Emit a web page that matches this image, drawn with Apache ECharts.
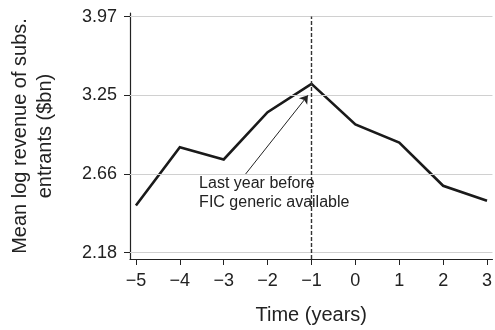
<!DOCTYPE html>
<html><head><meta charset="utf-8">
<script src="https://cdn.jsdelivr.net/npm/echarts@6/dist/echarts.min.js"></script>
<style>html,body{margin:0;padding:0;background:#fff}#c{width:495px;height:330px}</style>
</head><body><div id="c"></div>
<script>
// Data
var years = [-5, -4, -3, -2, -1, 0, 1, 2, 3];
var meanLogRevenue = [0.900, 1.048, 1.017, 1.137, 1.209, 1.106, 1.060, 0.950, 0.912];
var yTickValues = [0.78, 0.98, 1.18, 1.38];
var yTickLabels = ['2.18', '2.66', '3.25', '3.97'];
var xTickValues = [-5, -4, -3, -2, -1, 0, 1, 2, 3];
var eventYear = -1;
var annotationText = 'Last year before\nFIC generic available';
var annotationPos = [-3.56, 0.931];
var arrowFrom = [-2.5, 0.98];
var arrowTo = [-1.08, 1.18];

var yMin = 0.764, yMax = 1.389;
var font = 'Liberation Sans, Arial, Helvetica, sans-serif';
var chart = echarts.init(document.getElementById('c'));
function fmtX(v){ v = Math.round(v); return v < 0 ? '\u2212' + Math.abs(v) : String(v); }
function fmtY(v){
  for (var i = 0; i < yTickValues.length; i++) if (Math.abs(yTickValues[i] - v) < 1e-6) return yTickLabels[i];
  return '';
}
chart.setOption({
  animation: false,
  grid: {left: 128, right: 0, top: 13, bottom: 66},
  xAxis: {
    type: 'value', min: -5.135, max: 3.124,
    name: 'Time (years)', nameLocation: 'middle', nameGap: 46,
    nameTextStyle: {fontFamily: font, fontSize: 20, color: '#222'},
    axisLine: {show: true, onZero: false, lineStyle: {color: '#222', width: 1.2}},
    axisTick: {show: true, length: 6, customValues: xTickValues, lineStyle: {color: '#222', width: 1}},
    axisLabel: {customValues: xTickValues, formatter: fmtX, fontFamily: font, fontSize: 18, color: '#222', margin: 13},
    splitLine: {show: false}
  },
  yAxis: {
    type: 'value', min: yMin, max: yMax,
    name: 'Mean log revenue of subs.\nentrants ($bn)', nameLocation: 'middle', nameGap: 72,
    nameTextStyle: {fontFamily: font, fontSize: 20, color: '#222', lineHeight: 25, align: 'center'},
    axisLine: {show: true, onZero: false, lineStyle: {color: '#222', width: 1.2}},
    axisTick: {show: true, length: 6, customValues: yTickValues, lineStyle: {color: '#222', width: 1}},
    axisLabel: {customValues: yTickValues, formatter: fmtY, fontFamily: font, fontSize: 18, color: '#222', margin: 13},
    splitLine: {show: false}
  },
  series: [
    {
      type: 'line', data: [], z: 1, silent: true,
      markLine: {
        silent: true, symbol: ['none', 'none'], label: {show: false},
        lineStyle: {color: '#d0d0d0', width: 1, type: 'solid'},
        data: yTickValues.map(function(v){ return {yAxis: v}; })
      }
    },
    {
      type: 'line', z: 3,
      data: years.map(function(x, i){ return [x, meanLogRevenue[i]]; }),
      showSymbol: false, symbol: 'none',
      lineStyle: {color: '#1a1a1a', width: 2.6, join: 'miter'},
      markLine: {
        silent: true, symbol: ['none', 'none'], label: {show: false},
        lineStyle: {color: '#333', width: 1.4, type: [4, 2]},
        data: [[{coord: [eventYear, yMin]}, {coord: [eventYear, yTickValues[yTickValues.length - 1]]}]]
      }
    },
    {
      type: 'line', data: [], z: 4, silent: true,
      markLine: {
        silent: true, symbol: ['none', 'arrow'], symbolSize: 8, label: {show: false},
        lineStyle: {color: '#222', width: 1, type: 'solid'},
        data: [[{coord: arrowFrom}, {coord: arrowTo}]]
      },
      markPoint: {
        silent: true, symbol: 'circle', symbolSize: 0,
        label: {show: true, position: 'right', distance: 0, formatter: annotationText, fontFamily: font, fontSize: 16, lineHeight: 19, color: '#222', align: 'left', verticalAlign: 'middle'},
        data: [{coord: annotationPos}]
      }
    }
  ]
});
</script></body></html>
